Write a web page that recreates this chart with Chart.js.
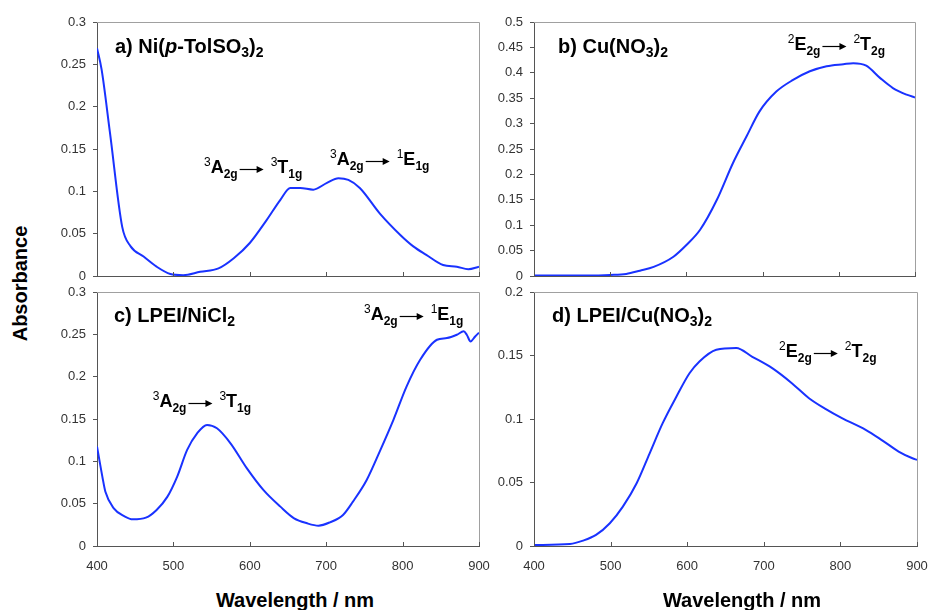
<!DOCTYPE html>
<html>
<head>
<meta charset="utf-8">
<script src="https://cdn.jsdelivr.net/npm/chart.js@4.4.0/dist/chart.umd.min.js"></script>
<style>
  html, body { margin: 0; padding: 0; background: #fff; }
  body { width: 929px; height: 610px; position: relative; overflow: hidden; font-family: "Liberation Sans", Arial, sans-serif; }
  canvas { position: absolute; }
  .axt { position: absolute; font-weight: bold; font-size: 20px; line-height: 23px; height: 23px; width: 300px; text-align: center; color: #000; white-space: nowrap; }
</style>
</head>
<body>
<canvas id="pa" width="456" height="268" style="left:37px;top:12px"></canvas>
<canvas id="pb" width="455" height="268" style="left:474px;top:12px"></canvas>
<canvas id="pc" width="456" height="294" style="left:37px;top:282px"></canvas>
<canvas id="pd" width="457" height="294" style="left:474px;top:282px"></canvas>
<div class="axt" style="left:-130px;top:272px;transform:rotate(-90deg)">Absorbance</div>
<div class="axt" style="left:145px;top:589px">Wavelength / nm</div>
<div class="axt" style="left:592px;top:589px">Wavelength / nm</div>
<script>
// a) Ni(p-TolSO3)2
const nmA  = [400, 406, 417, 433, 444, 461, 478, 496, 513, 535, 559, 579, 600, 622, 640, 653, 666, 683, 701, 716, 729, 744, 770, 797, 814, 831, 853, 871, 886, 900];
const absA = [0.269, 0.244, 0.169, 0.058, 0.035, 0.023, 0.011, 0.0024, 0.001, 0.005, 0.009, 0.021, 0.039, 0.066, 0.090, 0.104, 0.104, 0.102, 0.110, 0.1155, 0.1135, 0.104, 0.074, 0.0485, 0.035, 0.025, 0.013, 0.011, 0.008, 0.011];

// b) Cu(NO3)2
const nmB  = [400, 430, 470, 500, 521, 539, 557, 583, 600, 618, 640, 661, 679, 696, 718, 740, 762, 784, 806, 819, 836, 854, 871, 889, 900];
const absB = [0.001, 0.001, 0.001, 0.002, 0.004, 0.0105, 0.018, 0.038, 0.061, 0.091, 0.15, 0.222, 0.275, 0.324, 0.363, 0.386, 0.403, 0.413, 0.417, 0.419, 0.414, 0.390, 0.37, 0.357, 0.3515];

// c) LPEI/NiCl2
const nmC  = [400, 407, 411, 422, 436, 447, 464, 478, 492, 505, 518, 531, 544, 557, 575, 596, 618, 640, 658, 675, 690, 705, 722, 735, 753, 770, 788, 805, 823, 845, 858, 871, 880, 884, 889, 895, 900];
const absC = [0.1175, 0.082, 0.064, 0.0445, 0.035, 0.0315, 0.0335, 0.0426, 0.058, 0.082, 0.1135, 0.133, 0.143, 0.139, 0.121, 0.092, 0.066, 0.0465, 0.0327, 0.0268, 0.024, 0.028, 0.0367, 0.0524, 0.078, 0.1115, 0.149, 0.188, 0.22, 0.2436, 0.2456, 0.2495, 0.2535, 0.2495, 0.2416, 0.2475, 0.252];

// d) LPEI/Cu(NO3)2
const nmD  = [400, 447, 464, 481, 499, 516, 534, 551, 568, 586, 603, 616, 638, 664, 685, 711, 737, 759, 781, 802, 833, 855, 876, 894, 900];
const absD = [0.0008, 0.0016, 0.0042, 0.0087, 0.0179, 0.031, 0.0494, 0.073, 0.0967, 0.1177, 0.136, 0.1453, 0.1545, 0.156, 0.149, 0.140, 0.128, 0.1164, 0.1078, 0.1007, 0.0915, 0.083, 0.0744, 0.0691, 0.0678];

const xTicks = [400, 500, 600, 700, 800, 900];

const FONT = '"Liberation Sans", Arial, sans-serif';
const LINE = 'rgb(25, 50, 255)';

// bouts de texte riche (exposant / indice)
const big  = t => ({ t, size: 18, bold: true, dy: 0 });
const sup  = t => ({ t, size: 12, bold: false, dy: -7 });
const sub  = t => ({ t, size: 12, bold: true, dy: 5 });
const tt   = t => ({ t, size: 20, bold: true, dy: 0 });
const tsub = t => ({ t, size: 14, bold: true, dy: 4 });
const arrow = { arrow: true };

function rich(ctx, x, y, parts) {
    ctx.fillStyle = '#000';
    ctx.textBaseline = 'alphabetic';
    ctx.textAlign = 'left';
    parts.forEach(p => {
        if (p.arrow) {
            const ay = Math.round(y - 4) + 0.5;
            x += 2;
            ctx.strokeStyle = '#000';
            ctx.lineWidth = 1.2;
            ctx.beginPath(); ctx.moveTo(x, ay); ctx.lineTo(x + 18, ay); ctx.stroke();
            ctx.beginPath(); ctx.moveTo(x + 17, ay - 3.5); ctx.lineTo(x + 24, ay); ctx.lineTo(x + 17, ay + 3.5); ctx.closePath(); ctx.fill();
            x += 24 + 7;
            return;
        }
        ctx.font = `${p.italic ? 'italic ' : ''}${p.bold ? 'bold ' : ''}${p.size}px ${FONT}`;
        ctx.fillText(p.t, x, y + p.dy);
        x += ctx.measureText(p.t).width;
    });
}

function frame(title, notes) {
    return {
        id: 'frame',
        afterDraw(chart) {
            const { ctx, chartArea: a, scales: { x, y } } = chart;
            ctx.save();
            ctx.strokeStyle = '#a0a0a0';
            ctx.lineWidth = 1;
            ctx.beginPath();
            ctx.moveTo(a.left, Math.round(a.top) + 0.5);
            ctx.lineTo(Math.round(a.right) + 0.5, Math.round(a.top) + 0.5);
            ctx.lineTo(Math.round(a.right) + 0.5, a.bottom);
            ctx.stroke();
            // graduations vers l'intérieur
            ctx.strokeStyle = '#555';
            ctx.beginPath();
            xTicks.forEach(v => {
                const px = Math.round(x.getPixelForValue(v)) + 0.5;
                ctx.moveTo(px, a.bottom); ctx.lineTo(px, a.bottom - 4);
            });
            ctx.stroke();
            rich(ctx, a.left + title.dx, a.top + title.dy, title.parts);
            notes.forEach(n => rich(ctx, x.getPixelForValue(n.x), y.getPixelForValue(n.y), n.parts));
            ctx.restore();
        }
    };
}

function panel(id, nm, abs, yMax, showX, title, notes) {
    const ctx = document.getElementById(id).getContext('2d');
    return new Chart(ctx, {
        type: 'line',
        data: {
            datasets: [{
                data: nm.map((x, i) => ({ x, y: abs[i] })),
                borderColor: LINE,
                borderWidth: 2,
                pointRadius: 0,
                cubicInterpolationMode: 'monotone',
                fill: false
            }]
        },
        options: {
            responsive: false,
            animation: false,
            devicePixelRatio: 1,
            layout: { padding: { top: 10, right: 14, bottom: showX ? 0 : 4, left: 0 } },
            plugins: { legend: { display: false }, tooltip: { enabled: false } },
            scales: {
                x: {
                    type: 'linear', min: 400, max: 900,
                    afterFit: s => { s.height = showX ? 30 : 0; s.paddingLeft = 0; s.paddingRight = 0; },
                    afterBuildTicks: s => { s.ticks = xTicks.map(v => ({ value: v })); },
                    ticks: { display: showX, color: '#333', font: { size: 13, family: FONT }, padding: 13, maxRotation: 0 },
                    grid: { drawOnChartArea: false, drawTicks: false },
                    border: { color: '#555', width: 1 }
                },
                y: {
                    min: 0, max: yMax,
                    afterFit: s => { s.width = 60; s.paddingTop = 0; s.paddingBottom = 0; },
                    ticks: { stepSize: 0.05, color: '#333', font: { size: 13, family: FONT }, padding: 7,
                             callback: v => String(+v.toFixed(2)) },
                    grid: { drawOnChartArea: false, drawTicks: true, tickLength: 4, color: '#555' },
                    border: { color: '#555', width: 1 }
                }
            }
        },
        plugins: [frame(title, notes)]
    });
}

panel('pa', nmA, absA, 0.3, false,
    { dx: 18, dy: 31, parts: [tt('a) Ni('), { t: 'p', size: 20, bold: true, italic: true, dy: 0 }, tt('-TolSO'), tsub('3'), tt(')'), tsub('2')] },
    [
        { x: 540, y: 0.1217, parts: [sup('3'), big('A'), sub('2g'), arrow, sup('3'), big('T'), sub('1g')] },
        { x: 705, y: 0.131,  parts: [sup('3'), big('A'), sub('2g'), arrow, sup('1'), big('E'), sub('1g')] }
    ]);

panel('pb', nmB, absB, 0.5, false,
    { dx: 24, dy: 31, parts: [tt('b) Cu(NO'), tsub('3'), tt(')'), tsub('2')] },
    [
        { x: 733, y: 0.445, parts: [sup('2'), big('E'), sub('2g'), arrow, sup('2'), big('T'), sub('2g')] }
    ]);

panel('pc', nmC, absC, 0.3, true,
    { dx: 17, dy: 30, parts: [tt('c) LPEI/NiCl'), tsub('2')] },
    [
        { x: 749.5, y: 0.267, parts: [sup('3'), big('A'), sub('2g'), arrow, sup('1'), big('E'), sub('1g')] },
        { x: 473, y: 0.164, parts: [sup('3'), big('A'), sub('2g'), arrow, sup('3'), big('T'), sub('1g')] }
    ]);

panel('pd', nmD, absD, 0.2, true,
    { dx: 18, dy: 30, parts: [tt('d) LPEI/Cu(NO'), tsub('3'), tt(')'), tsub('2')] },
    [
        { x: 720, y: 0.1488, parts: [sup('2'), big('E'), sub('2g'), arrow, sup('2'), big('T'), sub('2g')] }
    ]);
</script>
</body>
</html>
